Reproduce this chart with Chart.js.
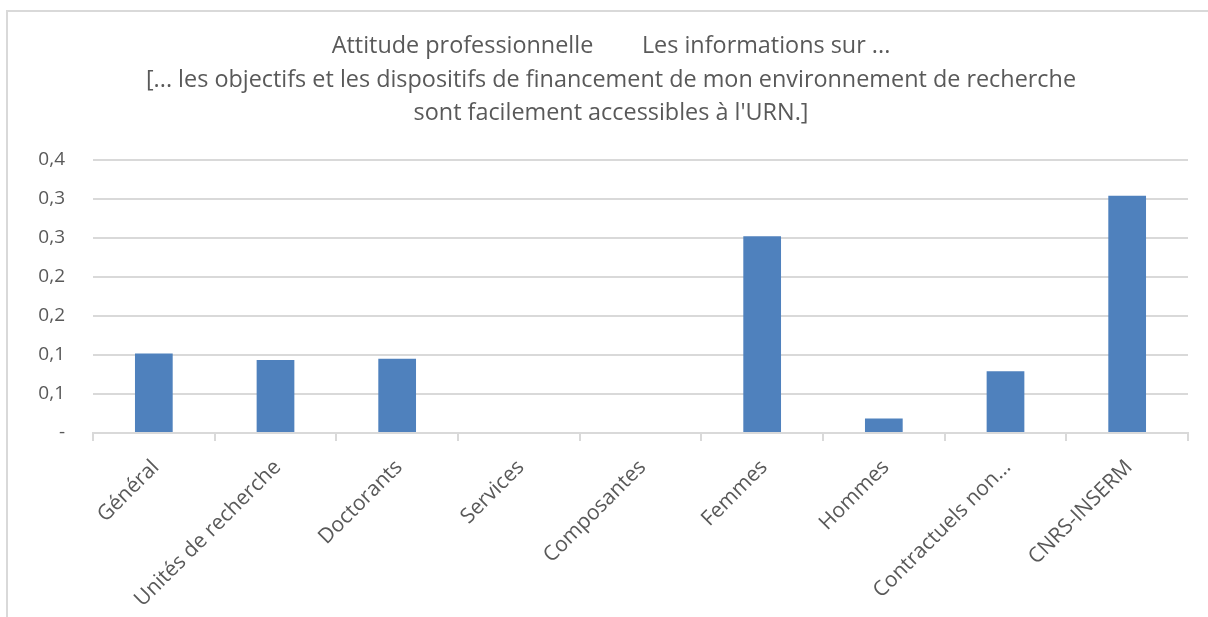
<!DOCTYPE html>
<html>
<head>
<meta charset="utf-8">
<script src="https://cdn.jsdelivr.net/npm/chart.js@4.4.0/dist/chart.umd.min.js"></script>
<style>
  html, body { margin: 0; padding: 0; background: #fff; }
  body { width: 1208px; height: 617px; overflow: hidden; position: relative; }
  .frame {
    position: absolute; left: 6px; top: 10px;
    width: 1400px; height: 800px;
    border: 2px solid #d9d9d9;
  }
  .wrap { position: absolute; left: 0; top: 0; width: 1208px; height: 617px; }
</style>
</head>
<body>
<div class="frame"></div>
<div class="wrap"><canvas id="chart" width="1208" height="617"></canvas></div>
<script>
// ================== Data ==================
const categories = [
  'Général', 'Unités de recherche', 'Doctorants', 'Services', 'Composantes',
  'Femmes', 'Hommes', 'Contractuels non...', 'CNRS-INSERM'
];
const values = [0.102, 0.0935, 0.095, 0, 0, 0.252, 0.0185, 0.079, 0.304];
const yTickLabels = ['-', '0,1', '0,1', '0,2', '0,2', '0,3', '0,3', '0,4'];
const titleLines = [
  'Attitude professionnelle        Les informations sur ...',
  "[... les objectifs et les dispositifs de financement de mon environnement de recherche",
  "sont facilement accessibles à l'URN.]"
];

const textColor = '#595959';
const gridColor = '#d9d9d9';

// ================== Chart ==================
new Chart(document.getElementById('chart'), {
  type: 'bar',
  data: {
    labels: categories,
    datasets: [{
      data: values,
      backgroundColor: '#4f81bd',
      borderWidth: 0,
      categoryPercentage: 1,
      barPercentage: 0.31
    }]
  },
  options: {
    responsive: false,
    animation: false,
    // left padding keeps the title centred on the frame like the original
    layout: { padding: { left: 34, right: 20, top: 0, bottom: 0 } },
    plugins: {
      legend: { display: false },
      tooltip: { enabled: false },
      title: {
        display: true,
        text: titleLines,
        color: textColor,
        font: { family: 'Open Sans', size: 23.4, weight: 'normal', lineHeight: 1.43 },
        padding: { top: 30, bottom: 29.5 }
      }
    },
    scales: {
      x: {
        grid: {
          display: true,
          offset: true,
          drawOnChartArea: false,
          drawTicks: true,
          tickLength: 8,
          color: gridColor,
          lineWidth: 2
        },
        border: { display: true, color: gridColor, width: 2 },
        ticks: {
          color: textColor,
          font: { family: 'Open Sans', size: 21 },
          maxRotation: 45,
          minRotation: 45,
          autoSkip: false,
          padding: 14,
          labelOffset: 2
        },
        afterFit: scale => { scale.height = 184; }
      },
      y: {
        min: 0,
        max: 0.35,
        grid: { color: gridColor, lineWidth: 2, drawTicks: false },
        border: { display: false },
        ticks: {
          stepSize: 0.05,
          color: textColor,
          font: { family: 'Open Sans', size: 19 },
          padding: 28,
          callback: (val, i) => yTickLabels[i]
        },
        afterFit: scale => { scale.width = 59; }
      }
    }
  }
});
</script>
</body>
</html>
